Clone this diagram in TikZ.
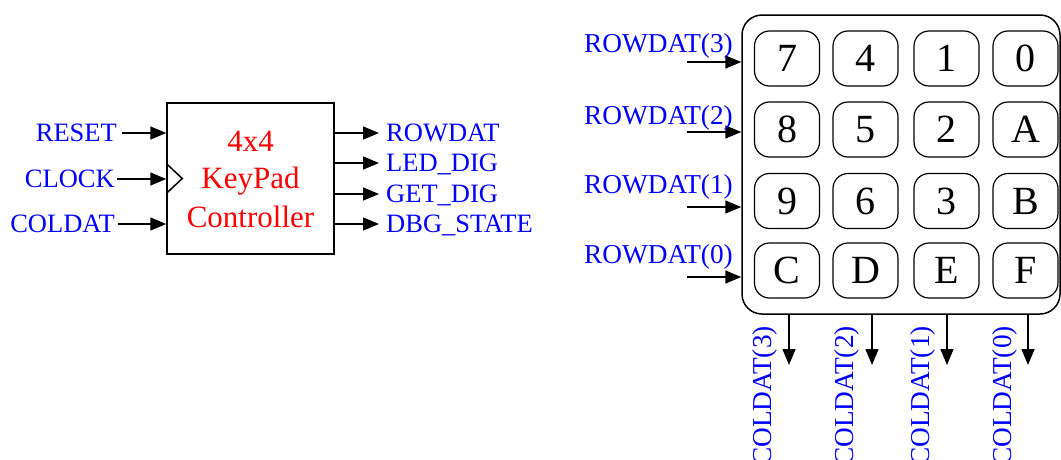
\documentclass[tikz,border=0pt]{standalone}
\usepackage{fontspec}
\setmainfont{Liberation Serif}
\usetikzlibrary{arrows.meta,calc}
\definecolor{sigblue}{RGB}{0,0,255}
\definecolor{sigred}{RGB}{255,0,0}
\begin{document}
\begin{tikzpicture}[x=1pt,y=-1pt,
  wire/.style={line width=1.5pt,-{Triangle[length=16pt,width=13pt]}},
  sig/.style={text=sigblue,font=\fontsize{26.5}{30}\selectfont,inner sep=0pt},
  rsig/.style={text=sigblue,font=\fontsize{27.3}{30}\selectfont,inner sep=0pt},
  title/.style={text=sigred,font=\fontsize{31}{36}\selectfont,inner sep=0pt,anchor=base},
  keybox/.style={draw,line width=1.2pt,rounded corners=15pt,minimum width=65pt,minimum height=55pt,inner sep=0pt,font=\fontsize{40}{44}\selectfont},
  coltext/.style={rsig,rotate=90,anchor=east}
]
\useasboundingbox (0,0) rectangle (1061,459);

% controller
\node[draw,line width=1.5pt,minimum width=167pt,minimum height=151pt,inner sep=0pt] (ctrl) at (250.5,178.5) {};
\node[title] (t1) at (250.5,151) {4x4};
\node[title] (t2) at (250.5,188) {KeyPad};
\node[title] (t3) at (250.5,227) {Controller};
\draw[line width=1.5pt] ([yshift=15pt]ctrl.west) coordinate (ck1) -- ++(16,15) coordinate (ck2) -- ++(-16,15) coordinate (ck3);

% inputs
\coordinate (iReset) at (122,133);
\coordinate (iClock) at (117,179);
\coordinate (iCol) at (118,224);
\draw[wire] (iReset) -- (iReset -| ctrl.west);
\draw[wire] (iClock) -- (iClock -| ctrl.west);
\draw[wire] (iCol) -- (iCol -| ctrl.west);
\node[sig,anchor=base east] (lReset) at (117,141.8) {RESET};
\node[sig,anchor=base east] (lClock) at (115,187.8) {CLOCK};
\node[sig,anchor=base east] (lCol) at (115,232.8) {COLDAT};

% outputs
\coordinate (oRow) at (379,133);
\coordinate (oLed) at (379,163);
\coordinate (oGet) at (379,194);
\coordinate (oDbg) at (379,224);
\draw[wire] (oRow -| ctrl.east) -- (oRow);
\draw[wire] (oLed -| ctrl.east) -- (oLed);
\draw[wire] (oGet -| ctrl.east) -- (oGet);
\draw[wire] (oDbg -| ctrl.east) -- (oDbg);
\node[sig,anchor=base west] (lRow) at (386,141.8) {ROWDAT};
\node[sig,anchor=base west] (lLed) at (386,171.8) {LED\_DIG};
\node[sig,anchor=base west] (lGet) at (386,202.8) {GET\_DIG};
\node[sig,anchor=base west] (lDbg) at (386,232.8) {DBG\_STATE};

% keypad
\node[draw,line width=1.5pt,rounded corners=20pt,minimum width=318pt,minimum height=299pt,inner sep=0pt] (pad) at (901,164.5) {};
\foreach \r/\y in {0/58.5,1/129.5,2/201,3/270.5}{
  \foreach \c/\x in {0/787,1/865.5,2/946.5,3/1025.5}{
    \coordinate (kc\r\c) at (\x,\y);
  }
}
\node[keybox] (k7) at (kc00) {7};
\node[keybox] (k4) at (kc01) {4};
\node[keybox] (k1) at (kc02) {1};
\node[keybox] (k0) at (kc03) {0};
\node[keybox] (k8) at (kc10) {8};
\node[keybox] (k5) at (kc11) {5};
\node[keybox] (k2) at (kc12) {2};
\node[keybox] (kA) at (kc13) {A};
\node[keybox] (k9) at (kc20) {9};
\node[keybox] (k6) at (kc21) {6};
\node[keybox] (k3) at (kc22) {3};
\node[keybox] (kB) at (kc23) {B};
\node[keybox] (kC) at (kc30) {C};
\node[keybox] (kD) at (kc31) {D};
\node[keybox] (kE) at (kc32) {E};
\node[keybox] (kF) at (kc33) {F};

% row inputs
\coordinate (r3) at (687,62);
\coordinate (r2) at (687,132);
\coordinate (r1) at (687,207);
\coordinate (r0) at (687,277);
\draw[wire] (r3) -- (r3 -| pad.west);
\draw[wire] (r2) -- (r2 -| pad.west);
\draw[wire] (r1) -- (r1 -| pad.west);
\draw[wire] (r0) -- (r0 -| pad.west);
\node[rsig,anchor=base east] (lr3) at (733,52) {ROWDAT(3)};
\node[rsig,anchor=base east] (lr2) at (733,124) {ROWDAT(2)};
\node[rsig,anchor=base east] (lr1) at (733,193) {ROWDAT(1)};
\node[rsig,anchor=base east] (lr0) at (733,263) {ROWDAT(0)};

% column outputs
\coordinate (c3) at (789,365);
\coordinate (c2) at (872,365);
\coordinate (c1) at (947,365);
\coordinate (c0) at (1028,365);
\draw[wire] (c3 |- pad.south) -- (c3);
\draw[wire] (c2 |- pad.south) -- (c2);
\draw[wire] (c1 |- pad.south) -- (c1);
\draw[wire] (c0 |- pad.south) -- (c0);
\node[coltext] (lc3) at (765,326) {COLDAT(3)};
\node[coltext] (lc2) at (847,326) {COLDAT(2)};
\node[coltext] (lc1) at (923,326) {COLDAT(1)};
\node[coltext] (lc0) at (1005,326) {COLDAT(0)};
\end{tikzpicture}
\end{document}
